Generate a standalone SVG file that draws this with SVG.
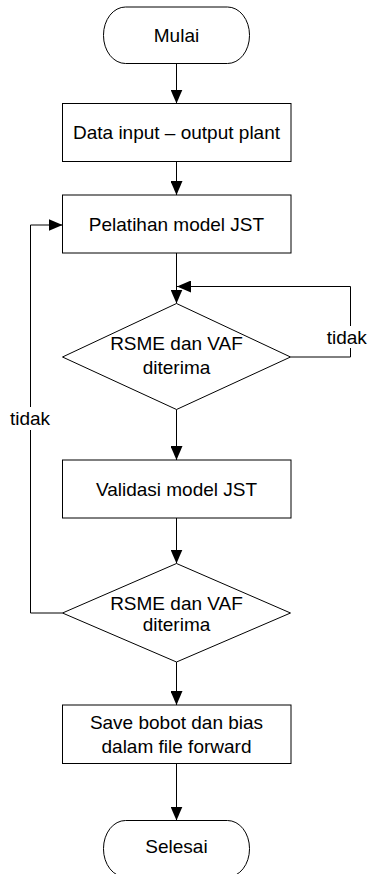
<svg xmlns="http://www.w3.org/2000/svg" width="369" height="874" viewBox="0 0 369 874">
  <style>
    .shape { fill: #ffffff; stroke: #000000; stroke-width: 1; }
    .wire { fill: none; stroke: #000000; stroke-width: 1; }
    .label { font-family: "Liberation Sans", Arial, sans-serif; font-size: 19px; fill: #000000; text-anchor: middle; }
  </style>
  <defs>
    <marker id="arrow" markerUnits="userSpaceOnUse" markerWidth="14" markerHeight="12" refX="14" refY="6" orient="auto">
      <path d="M0,0 L14,6 L0,12 Z" fill="#000000"/>
    </marker>
  </defs>
  <rect width="369" height="874" fill="#ffffff"/>

  <!-- connectors -->
  <g id="connectors">
    <line class="wire" x1="176.5" y1="63.5" x2="176.5" y2="103.5" marker-end="url(#arrow)"/>
    <line class="wire" x1="176.5" y1="161.5" x2="176.5" y2="195" marker-end="url(#arrow)"/>
    <line class="wire" x1="176.5" y1="253" x2="176.5" y2="303.5" marker-end="url(#arrow)"/>
    <line class="wire" x1="176.5" y1="409.5" x2="176.5" y2="460" marker-end="url(#arrow)"/>
    <line class="wire" x1="176.5" y1="518" x2="176.5" y2="563.5" marker-end="url(#arrow)"/>
    <line class="wire" x1="176.5" y1="662" x2="176.5" y2="705" marker-end="url(#arrow)"/>
    <line class="wire" x1="176.5" y1="763.5" x2="176.5" y2="820.5" marker-end="url(#arrow)"/>
    <!-- retry loop on the first check -->
    <polyline class="wire" points="290.5,357 350.5,357 350.5,286.5 177,286.5" marker-end="url(#arrow)"/>
    <!-- back to training from the second check -->
    <polyline class="wire" points="62.5,613 30.5,613 30.5,225 62.5,225" marker-end="url(#arrow)"/>
    <rect x="326" y="326" width="42" height="22" fill="#ffffff"/>
    <text class="label" x="346.7" y="343.5">tidak</text>
    <rect x="9" y="407" width="42" height="23" fill="#ffffff"/>
    <text class="label" x="30" y="425">tidak</text>
  </g>

  <g id="mulai">
    <rect class="shape" x="103.5" y="7" width="146" height="56.5" rx="22" ry="28"/>
    <text class="label" x="176.5" y="41.7">Mulai</text>
  </g>

  <g id="data-input">
    <rect class="shape" x="62.5" y="103.5" width="228.5" height="58"/>
    <text class="label" x="176.5" y="139.3">Data input – output plant</text>
  </g>

  <g id="pelatihan">
    <rect class="shape" x="62.5" y="195" width="228.5" height="58"/>
    <text class="label" x="176.5" y="231">Pelatihan model JST</text>
  </g>

  <g id="cek-pelatihan">
    <polygon class="shape" points="176.5,303.5 290.5,357 176.5,409.5 62.5,357"/>
    <text class="label" x="176.5" y="350">RSME dan VAF</text>
    <text class="label" x="176.5" y="374">diterima</text>
  </g>

  <g id="validasi">
    <rect class="shape" x="62.5" y="460" width="228.5" height="58"/>
    <text class="label" x="176.5" y="495.5">Validasi model JST</text>
  </g>

  <g id="cek-validasi">
    <polygon class="shape" points="176.5,563.5 290.5,613 176.5,662 62.5,613"/>
    <text class="label" x="176.5" y="609.5">RSME dan VAF</text>
    <text class="label" x="176.5" y="630.5">diterima</text>
  </g>

  <g id="simpan">
    <rect class="shape" x="62.5" y="705" width="228.5" height="58.5"/>
    <text class="label" x="176.5" y="729.3">Save bobot dan bias</text>
    <text class="label" x="176.5" y="753.3">dalam file forward</text>
  </g>

  <g id="selesai">
    <rect class="shape" x="103.5" y="820.5" width="146" height="56.5" rx="22" ry="28"/>
    <text class="label" x="176.5" y="853.3">Selesai</text>
  </g>
</svg>
